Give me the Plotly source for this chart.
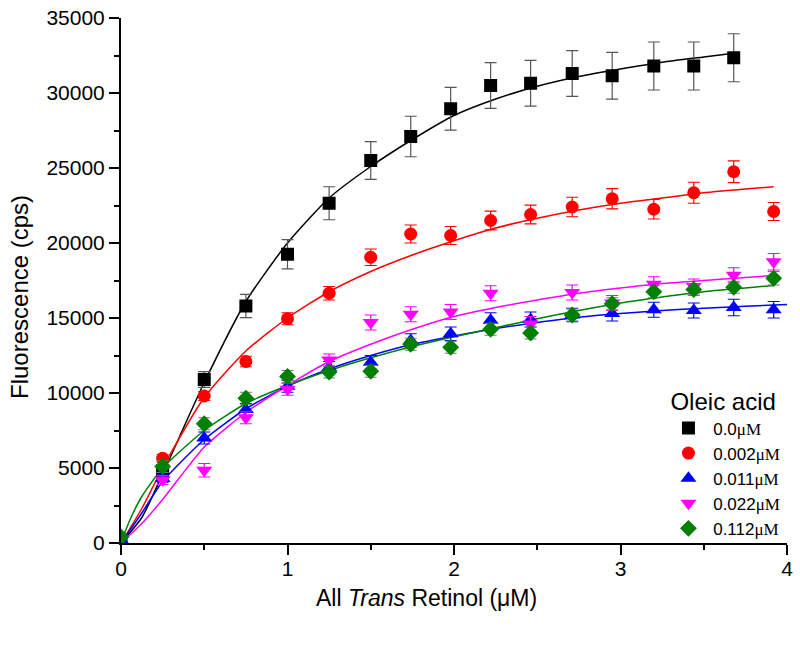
import plotly.graph_objects as go

# retinol concentration (uM) of each measurement
x_conc = [0, 0.25, 0.5, 0.75, 1.0, 1.25, 1.5, 1.74, 1.98, 2.22, 2.46, 2.71, 2.95, 3.2, 3.44, 3.68, 3.92]

# measured fluorescence (cps) and error bars per oleic acid level
y_00 = [100, 4800, 10900, 15800, 19250, 22650, 25500, 27100, 28950, 30500, 30650, 31300, 31150, 31800, 31800, 32350]
e_00 = [0, 400, 530, 770, 970, 1100, 1260, 1350, 1430, 1530, 1530, 1530, 1560, 1600, 1600, 1600]

y_002 = [150, 5650, 9800, 12100, 14950, 16650, 19050, 20600, 20500, 21500, 21900, 22400, 22950, 22250, 23350, 24750, 22100]
e_002 = [0, 250, 300, 350, 400, 450, 550, 600, 600, 620, 620, 650, 680, 650, 700, 730, 600]

y_011 = [200, 4300, 7000, 8900, 10450, 11700, 12050, 13500, 13950, 14850, 14900, 15200, 15300, 15550, 15500, 15700, 15550]
e_011 = [0, 250, 400, 400, 400, 400, 450, 450, 450, 500, 500, 450, 500, 500, 500, 550, 550]

y_022 = [250, 4200, 4850, 8350, 10250, 12200, 14700, 15250, 15400, 16650, 14600, 16700, 16000, 17250, 17100, 17850, 18750]
e_022 = [0, 300, 450, 400, 400, 400, 500, 500, 500, 500, 500, 500, 500, 500, 500, 500, 550]

y_112 = [400, 5100, 7950, 9650, 11100, 11400, 11450, 13250, 13050, 14250, 14000, 15200, 15950, 16750, 16900, 17050, 17650]
e_112 = [0, 400, 400, 400, 400, 400, 400, 400, 400, 400, 400, 400, 400, 400, 400, 400, 450]

# fitted curves
fit_x_00 = [0, 0.125, 0.25, 0.5, 0.75, 1.0, 1.25, 1.5, 1.75, 2.0, 2.25, 2.5, 2.75, 3.0, 3.25, 3.5, 3.68]
fit_00 = [0, 1700, 4600, 10700, 16100, 20000, 23000, 25100, 26900, 28500, 29600, 30450, 31100, 31600, 32050, 32400, 32650]

fit_x = [0, 0.125, 0.25, 0.5, 0.75, 1.0, 1.25, 1.5, 1.75, 2.0, 2.25, 2.5, 2.75, 3.0, 3.25, 3.5, 3.75, 3.92]
fit_002 = [0, 2300, 5000, 9700, 12800, 15000, 16750, 18100, 19200, 20150, 21000, 21650, 22200, 22650, 23000, 23350, 23600, 23750]
fit_022 = [0, 1300, 2900, 6400, 8700, 10500, 12100, 13250, 14250, 15100, 15700, 16200, 16650, 17000, 17300, 17500, 17700, 17830]

fit_x_011 = [0, 0.125, 0.25, 0.5, 0.75, 1.0, 1.25, 1.5, 1.75, 2.0, 2.25, 2.5, 2.75, 3.0, 3.25, 3.5, 3.75, 4.0]
fit_011 = [0, 2000, 4100, 6900, 8950, 10450, 11600, 12500, 13250, 13800, 14300, 14700, 15050, 15300, 15500, 15650, 15780, 15900]

fit_x_112 = [0, 0.03, 0.06, 0.125, 0.25, 0.5, 0.75, 1.0, 1.25, 1.5, 1.75, 2.0, 2.25, 2.5, 2.75, 3.0, 3.25, 3.5, 3.75, 3.92]
fit_112 = [0, 900, 1700, 3100, 5000, 7500, 9300, 10500, 11500, 12350, 13100, 13750, 14350, 14950, 15500, 16000, 16400, 16750, 17000, 17170]

labels = ["0.0", "0.002", "0.011", "0.022", "0.112"]

FONT = "Liberation Sans"
SERIF = "Liberation Serif"

series = [
    (labels[0], y_00, e_00, fit_x_00, fit_00, "#000000", "square", 13, "#555555"),
    (labels[1], y_002, e_002, fit_x, fit_002, "#ff0000", "circle", 13, "#ff0000"),
    (labels[2], y_011, e_011, fit_x_011, fit_011, "#0000ff", "triangle-up", 14, "#0000ff"),
    (labels[3], y_022, e_022, fit_x, fit_022, "#ff00ff", "triangle-down", 14, "#ff00ff"),
    (labels[4], y_112, e_112, fit_x_112, fit_112, "#008000", "diamond", 13, "#777777"),
]

fig = go.Figure()

# fit lines first so the markers sit on top
for name, ys, es, fx, fy, col, sym, size, ecol in series:
    fig.add_trace(go.Scatter(
        x=fx, y=fy, mode="lines", showlegend=False, hoverinfo="skip",
        line=dict(color=col, width=1.5, shape="spline", smoothing=0.6),
    ))

for name, ys, es, fx, fy, col, sym, size, ecol in series:
    fig.add_trace(go.Scatter(
        x=x_conc[:len(ys)], y=ys, mode="markers",
        name="\u00a0" + name + '<span style="font-family:' + SERIF + '">μM</span>',
        marker=dict(color=col, symbol=sym, size=size, line=dict(width=0)),
        error_y=dict(type="data", array=es, color=ecol, thickness=1.2, width=6),
    ))

fig.update_layout(
    width=800, height=647,
    margin=dict(l=121, r=13, t=18, b=104),
    paper_bgcolor="white",
    plot_bgcolor="white",
    font=dict(family=FONT, color="black", size=20),
    legend=dict(
        title=dict(text="Oleic acid", font=dict(size=24, family=FONT)),
        font=dict(size=17, family=FONT),
        x=0.822, y=0.312, xanchor="left", yanchor="top",
        bgcolor="rgba(0,0,0,0)", tracegroupgap=0,
    ),
)

fig.update_xaxes(
    range=[0, 4], dtick=1, tick0=0, automargin=False,
    showline=True, linecolor="black", linewidth=2,
    ticks="outside", ticklen=10, tickwidth=2, tickcolor="black",
    minor=dict(ticks="outside", ticklen=5, tickwidth=2, tickcolor="black", dtick=0.5),
    showgrid=False, zeroline=False, ticklabeloverflow="allow",
    tickfont=dict(size=21), ticklabelstandoff=-4,
)
fig.update_yaxes(
    range=[0, 35000], dtick=5000, tick0=0, tickformat="d", automargin=False,
    showline=True, linecolor="black", linewidth=2,
    ticks="outside", ticklen=10, tickwidth=2, tickcolor="black",
    minor=dict(ticks="outside", ticklen=5, tickwidth=2, tickcolor="black", dtick=2500),
    showgrid=False, zeroline=False, ticklabeloverflow="allow",
    tickfont=dict(size=21),
)

# axis titles sit off-centre in the original, so place them directly
fig.add_annotation(
    text="All <i>Trans</i> Retinol (μM)", xref="paper", yref="paper",
    x=0.458, y=0, yshift=-55, xanchor="center", yanchor="middle",
    showarrow=False, font=dict(size=23),
)
fig.add_annotation(
    text="Fluorescence (cps)", xref="paper", yref="paper",
    x=0, xshift=-101, y=0.4686, xanchor="center", yanchor="middle",
    textangle=-90, showarrow=False, font=dict(size=24),
)

# drop the default page margin so the figure fills the window exactly
fig.write_html(
    "out.html",
    config={"displayModeBar": False},
    post_script="document.body.style.margin='0';",
)
